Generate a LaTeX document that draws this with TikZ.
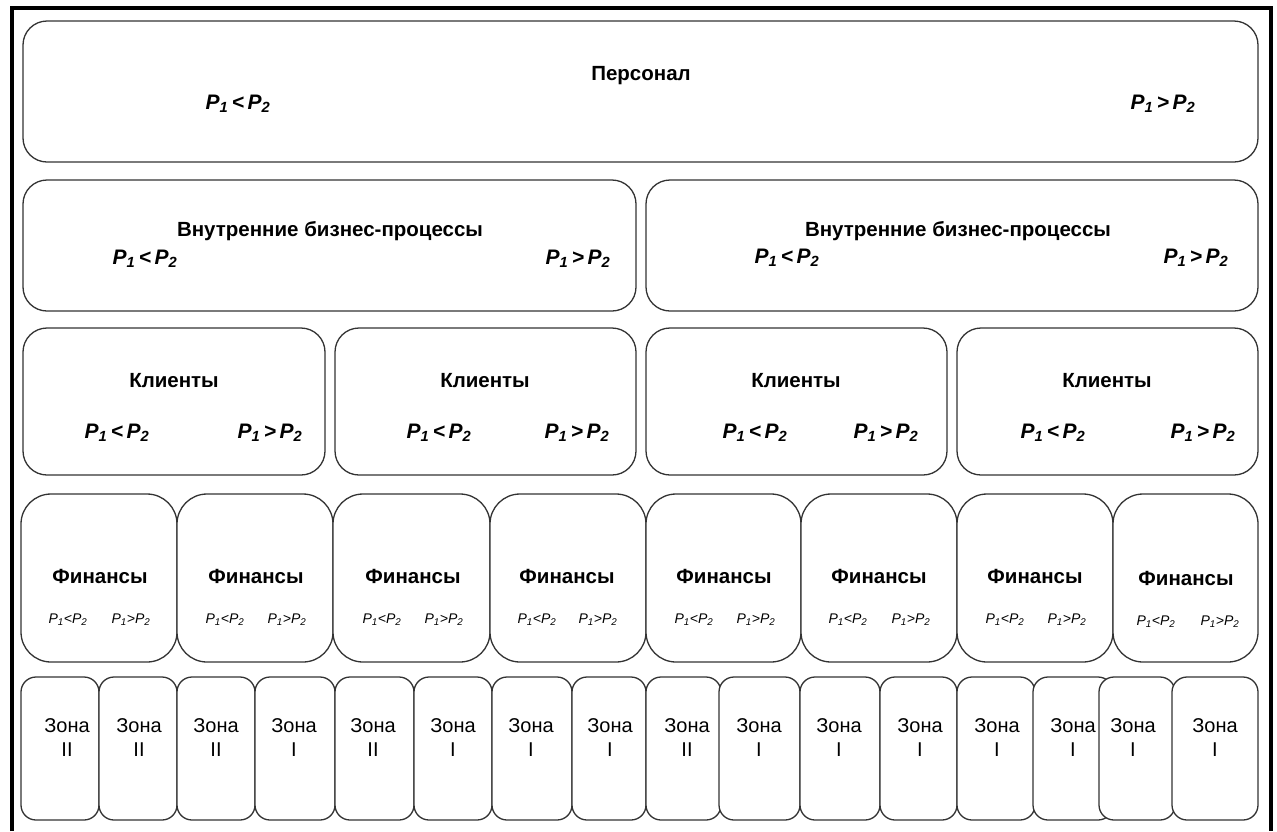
\documentclass[tikz,border=0pt]{standalone}
\usepackage{fontspec}
\setmainfont{Liberation Sans}
\newcommand{\plt}{{\bfseries\itshape P\textsubscript{1}\,<\,P\textsubscript{2}}}
\newcommand{\pgt}{{\bfseries\itshape P\textsubscript{1}\,>\,P\textsubscript{2}}}
\newcommand{\pltc}{{\itshape P\textsubscript{1}<P\textsubscript{2}}}
\newcommand{\pgtc}{{\itshape P\textsubscript{1}>P\textsubscript{2}}}
\begin{document}
\begin{tikzpicture}[x=1pt,y=-1pt,
  blk/.style={draw=black!80,fill=white,line width=1.3pt,rounded corners=#1},
  blk/.default=24pt,
  ttl/.style={font=\fontsize{20.5}{23}\selectfont\bfseries,inner sep=0pt},
  prel/.style={font=\fontsize{21}{23}\selectfont,inner sep=0pt},
  fttl/.style={font=\fontsize{20.5}{23}\selectfont\bfseries,inner sep=0pt},
  fpr/.style={font=\fontsize{14}{16}\selectfont,inner sep=0pt},
  zt/.style={font=\fontsize{20}{22}\selectfont,inner sep=0pt,align=center}]
\useasboundingbox (0,0) rectangle (1277,831);
\fill[white] (0,0) rectangle (1277,831);
% outer frame
\draw[line width=4pt] (12,831) -- (12,8) -- (1271,8) -- (1271,831);
% Row 1
\draw[blk] (23,21) rectangle (1258,162);
\node[ttl] (pers) at (641,76) {Персонал};
\node[prel] (p1l) at (238,104) {\plt};
\node[prel] (p1g) at (1163,104) {\pgt};
% Row 2
\draw[blk] (23,180) rectangle (636,311);
\draw[blk] (646,180) rectangle (1258,311);
\node[ttl] (ib1) at (330,231) {Внутренние бизнес-процессы};
\node[prel] (ib1l) at (145,259) {\plt};
\node[prel] (ib1g) at (578,259) {\pgt};
\node[ttl] (ib2) at (958,231) {Внутренние бизнес-процессы};
\node[prel] (ib2l) at (787,258) {\plt};
\node[prel] (ib2g) at (1196,258) {\pgt};
% Row 3
\foreach \i/\a/\b/\c/\l/\g in {1/23/325/174/117/270, 2/335/636/485/439/577, 3/646/947/796/755/886, 4/957/1258/1107/1053/1203}{
  \draw[blk] (\a,328) rectangle (\b,475);
  \node[ttl] (kl\i) at (\c,381) {Клиенты};
  \node[prel] (kl\i l) at (\l,433) {\plt};
  \node[prel] (kl\i g) at (\g,433) {\pgt};
}
% Row 4
\foreach \i/\a/\b/\c/\l/\g/\y in {1/21/177/100/68/131/0, 2/177/333/256/225/287/0, 3/333/490/413/382/444/0, 4/490/646/567/537/598/0, 5/646/801/724/694/756/0, 6/801/957/879/848/911/0, 7/957/1113/1035/1005/1067/0, 8/1113/1258/1186/1156/1220/2}{
  \draw[blk=30pt] (\a,494) rectangle (\b,662);
  \node[fttl] (fin\i) at (\c,576+\y) {Финансы};
  \node[fpr] (fin\i l) at (\l,620+\y) {\pltc};
  \node[fpr] (fin\i g) at (\g,620+\y) {\pgtc};
}
% Row 5
\foreach \i/\a/\b/\c/\z in {1/21/99/67/II, 2/99/177/139/II, 3/177/255/216/II, 4/255/335/294/I, 5/335/414/373/II, 6/414/492/453/I, 7/492/572/531/I, 8/572/646/610/I, 9/646/721/687/II, 10/719/800/759/I, 11/800/880/839/I, 12/880/957/920/I, 13/957/1035/997/I, 14/1033/1113/1073/I, 15/1099/1175/1133/I, 16/1172/1258/1215/I}{
  \draw[blk=15pt] (\a,677) rectangle (\b,820);
  \node[zt] (zn\i) at (\c,738) {Зона\\[2pt]\z};
}
\end{tikzpicture}
\end{document}
